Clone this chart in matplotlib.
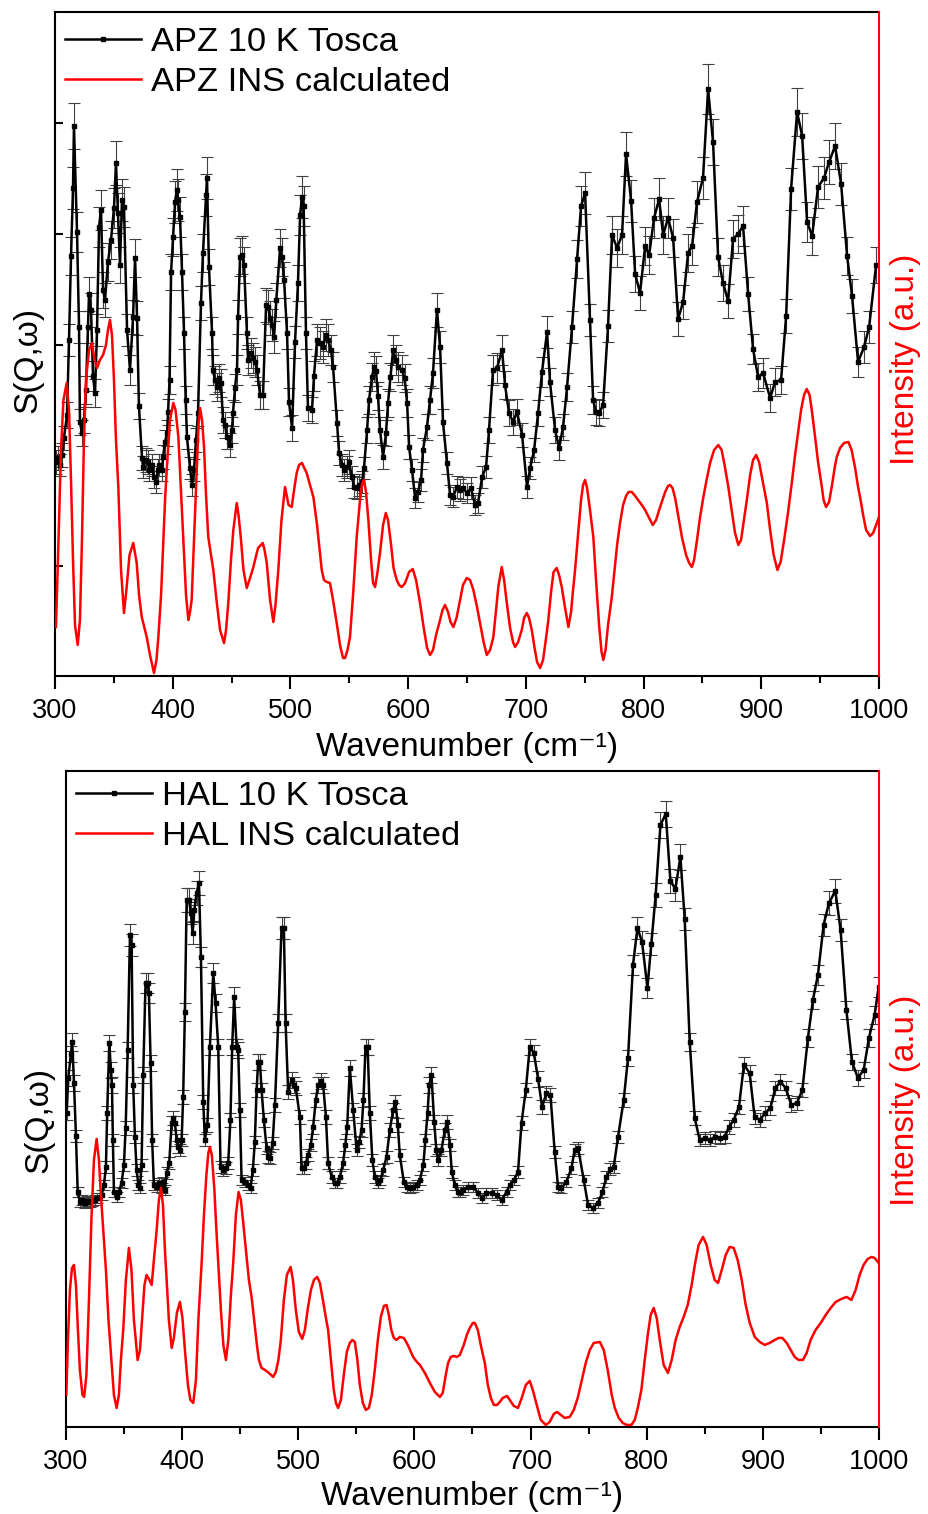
import numpy as np
import matplotlib
matplotlib.use("Agg")
import matplotlib.pyplot as plt
from matplotlib.lines import Line2D

plt.rcParams['font.family'] = ['Liberation Sans', 'DejaVu Sans']

# ---- APZ: TOSCA spectrum at 10 K (arbitrary units) ----
apz_wn = [300.8, 302.5, 304.2, 305.9, 307.6, 310.2, 311.9, 313.6, 315.3, 316.1, 318.7, 320.4, 321.2, 322.9,
          324.6, 326.3, 328.0, 328.9, 330.6, 332.3, 334.0, 335.7, 337.4, 339.1, 340.8, 342.5, 345.0, 347.6,
          350.1, 351.8, 353.5, 355.2, 356.9, 358.6, 361.2, 363.7, 366.3, 368.0, 369.7, 371.3, 373.9, 374.8,
          377.3, 379.0, 379.9, 382.4, 384.1, 385.8, 387.5, 388.4, 390.9, 391.8, 393.5, 395.2, 396.0, 397.3,
          398.6, 400.3, 402.0, 403.6, 404.5, 406.2, 407.9, 409.6, 411.0, 412.1, 414.7, 416.4, 418.1, 419.8,
          421.5, 424.0, 425.7, 428.3, 429.1, 430.8, 433.4, 434.2, 435.9, 437.6, 439.3, 441.0, 442.7, 444.4,
          446.1, 448.7, 450.4, 451.2, 452.9, 454.6, 455.5, 457.2, 458.9, 460.6, 463.1, 464.0, 466.5, 468.2,
          469.9, 471.6, 474.2, 476.7, 479.3, 481.0, 482.7, 484.4, 486.1, 488.0, 491.2, 492.9, 494.6, 497.1,
          498.8, 501.4, 503.9, 506.4, 508.2, 509.9, 511.2, 513.2, 514.9, 518.3, 520.0, 522.6, 525.1, 527.7,
          530.2, 531.9, 534.5, 536.2, 539.6, 541.3, 543.8, 545.5, 548.1, 549.8, 552.3, 554.0, 556.6, 558.3,
          560.8, 562.5, 565.1, 566.8, 569.3, 571.0, 572.7, 574.4, 576.1, 578.7, 581.2, 582.9, 585.0, 587.2,
          589.7, 591.4, 594.8, 597.0, 599.1, 600.8, 603.3, 605.9, 608.4, 611.0, 612.6, 616.0, 618.6, 621.1,
          624.5, 627.1, 629.6, 633.0, 635.6, 638.1, 641.5, 644.1, 646.6, 650.0, 653.4, 656.8, 659.4, 662.8,
          666.2, 668.7, 672.1, 675.5, 679.8, 682.3, 685.7, 689.1, 692.5, 696.8, 701.0, 703.6, 707.0, 710.4,
          713.7, 718.0, 720.5, 724.8, 728.2, 731.6, 735.0, 739.2, 743.5, 746.9, 750.3, 754.5, 757.1, 759.6,
          762.2, 765.6, 769.8, 773.2, 777.5, 781.7, 785.1, 789.4, 792.8, 797.0, 801.3, 804.7, 808.9, 813.2,
          816.6, 820.8, 825.1, 829.3, 833.6, 837.8, 841.2, 845.4, 850.5, 854.8, 859.0, 863.3, 867.5, 871.8,
          876.0, 880.3, 884.5, 888.8, 893.0, 897.3, 901.5, 907.5, 911.7, 916.8, 921.1, 925.3, 930.4, 934.7,
          938.9, 943.2, 948.2, 953.3, 957.6, 962.7, 967.8, 972.9, 977.1, 982.2, 987.3, 991.6, 997.5]
apz_s = [214, 218, 211, 221, 238, 261, 336, 420, 488, 550, 444, 349, 254, 243,
         256, 286, 349, 382, 366, 300, 283, 346, 449, 466, 386, 376, 414, 436,
         468, 513, 463, 411, 476, 469, 346, 306, 359, 418, 358, 270, 218, 209,
         216, 214, 206, 211, 199, 194, 206, 211, 206, 219, 234, 243, 264, 296,
         404, 439, 474, 486, 476, 459, 404, 343, 276, 239, 208, 191, 206, 236,
         263, 373, 423, 481, 498, 409, 343, 306, 296, 289, 298, 293, 256, 251,
         239, 231, 246, 263, 288, 306, 359, 419, 421, 411, 343, 316, 323, 318,
         314, 306, 281, 281, 371, 369, 358, 351, 339, 376, 428, 419, 396, 343,
         274, 248, 334, 393, 461, 479, 470, 343, 268, 266, 300, 336, 333, 329,
         341, 336, 326, 309, 253, 223, 211, 206, 209, 214, 199, 189, 188, 191,
         194, 208, 246, 276, 299, 309, 305, 280, 246, 219, 243, 273, 299, 326,
         316, 309, 306, 298, 273, 229, 206, 178, 184, 196, 226, 249, 276, 303,
         366, 329, 254, 213, 181, 179, 189, 186, 188, 183, 188, 171, 173, 199,
         209, 246, 306, 308, 326, 291, 263, 254, 264, 241, 189, 208, 226, 263,
         304, 344, 294, 246, 228, 249, 289, 349, 417, 470, 483, 356, 276, 264,
         263, 271, 350, 441, 428, 441, 522, 475, 402, 383, 430, 421, 458, 477,
         441, 458, 438, 357, 374, 423, 430, 474, 498, 587, 534, 419, 393, 375,
         437, 442, 450, 382, 327, 299, 303, 278, 294, 296, 360, 487, 564, 540,
         454, 440, 489, 498, 514, 530, 492, 420, 380, 314, 329, 349, 411]
apz_err = [12, 12, 11, 12, 12, 13, 16, 19, 21, 23, 20, 16, 13, 13,
           13, 14, 16, 17, 17, 15, 14, 16, 20, 20, 18, 17, 19, 19,
           20, 22, 20, 18, 21, 20, 16, 15, 17, 19, 17, 13, 12, 11,
           12, 12, 11, 11, 11, 11, 11, 11, 11, 12, 12, 13, 13, 14,
           18, 19, 21, 21, 21, 20, 18, 16, 14, 12, 11, 11, 11, 12,
           13, 17, 19, 21, 21, 18, 16, 15, 14, 14, 14, 14, 13, 13,
           12, 12, 13, 13, 14, 15, 17, 19, 19, 18, 16, 15, 15, 15,
           15, 15, 14, 14, 17, 17, 17, 16, 16, 17, 19, 19, 18, 16,
           14, 13, 16, 18, 20, 21, 20, 16, 13, 13, 15, 16, 16, 16,
           16, 16, 15, 15, 13, 12, 11, 11, 11, 12, 11, 11, 11, 11,
           11, 11, 13, 14, 14, 15, 15, 14, 13, 12, 13, 14, 14, 15,
           15, 15, 15, 14, 14, 12, 11, 10, 10, 11, 12, 13, 14, 15,
           17, 16, 13, 11, 10, 10, 11, 11, 11, 10, 11, 10, 10, 11,
           11, 13, 15, 15, 15, 14, 13, 13, 13, 12, 11, 11, 12, 13,
           15, 16, 14, 13, 12, 13, 14, 16, 19, 20, 21, 16, 14, 13,
           13, 13, 16, 19, 19, 19, 22, 21, 18, 17, 19, 19, 20, 21,
           19, 20, 19, 17, 17, 19, 19, 21, 21, 25, 23, 19, 18, 17,
           19, 19, 20, 17, 15, 14, 15, 14, 14, 14, 17, 21, 24, 23,
           20, 19, 21, 21, 22, 23, 21, 19, 17, 15, 16, 16, 18]

# ---- APZ: calculated INS spectrum (arbitrary units) ----
apz_calc_wn = [300.8, 302.5, 305.1, 307.2, 309.9, 311.9, 313.6, 315.3, 317.0, 319.3, 321.2, 322.9, 324.6, 326.3,
               328.9, 331.4, 333.6, 335.7, 338.2, 340.8, 343.3, 345.0, 346.7, 348.4, 350.1, 351.8, 353.8, 356.1,
               358.6, 360.9, 363.3, 366.5, 369.4, 371.4, 373.7, 377.9, 380.7, 384.1, 386.2, 387.8, 390.1, 392.0,
               393.5, 394.9, 397.7, 400.5, 402.4, 404.8, 407.0, 409.0, 411.3, 413.3, 414.7, 416.1, 418.1, 420.4,
               421.9, 423.2, 424.9, 426.6, 428.3, 430.2, 432.5, 434.5, 437.2, 440.2, 443.6, 445.3, 447.2, 449.5,
               451.5, 454.4, 455.9, 457.8, 460.1, 462.9, 465.7, 468.5, 472.5, 476.5, 478.0, 479.9, 482.7, 485.5,
               487.3, 489.7, 492.4, 495.4, 498.4, 501.1, 503.1, 505.3, 507.3, 509.8, 513.8, 516.6, 519.5, 522.6,
               526.6, 528.5, 530.8, 533.6, 536.2, 539.3, 542.1, 544.7, 546.4, 548.5, 550.6, 553.2, 556.3, 559.1,
               560.8, 562.5, 564.2, 566.2, 568.5, 570.2, 571.9, 574.0, 576.1, 578.7, 581.0, 582.9, 585.5, 587.6,
               590.3, 592.3, 594.6, 597.4, 600.8, 603.9, 606.7, 610.1, 613.5, 616.1, 618.6, 621.1, 623.7, 627.1,
               629.2, 631.3, 633.9, 636.0, 638.4, 641.1, 644.1, 646.6, 649.8, 652.6, 655.4, 658.5, 661.1, 664.1,
               666.8, 669.6, 672.4, 674.7, 676.6, 679.5, 681.5, 683.8, 686.6, 689.1, 690.8, 693.4, 696.5, 698.5,
               700.8, 702.7, 705.0, 707.4, 709.5, 712.1, 714.6, 716.7, 719.1, 721.4, 723.5, 726.2, 728.2, 730.5,
               732.9, 736.1, 738.4, 740.1, 741.8, 744.3, 746.9, 748.6, 750.3, 752.0, 754.5, 757.3, 759.6, 762.2,
               764.3, 765.8, 767.7, 769.8, 773.0, 775.3, 777.5, 780.0, 782.6, 785.1, 787.2, 790.0, 792.8, 795.3,
               798.5, 801.3, 804.7, 807.8, 810.6, 813.2, 815.5, 818.3, 820.8, 822.5, 824.6, 826.8, 829.6, 832.7,
               836.1, 838.7, 841.0, 842.9, 845.4, 848.0, 850.8, 853.5, 856.5, 859.9, 863.5, 866.3, 868.8, 872.0,
               874.8, 877.7, 880.5, 882.8, 885.0, 887.7, 890.5, 893.0, 895.6, 898.1, 900.7, 904.7, 907.5, 910.5,
               913.7, 916.4, 919.4, 923.0, 926.2, 928.7, 931.5, 933.8, 936.3, 938.6, 941.0, 943.1, 945.7, 948.2,
               951.2, 952.9, 955.0, 957.6, 960.1, 962.3, 964.1, 966.9, 970.3, 974.0, 976.7, 979.7, 982.2, 983.9,
               986.5, 989.0, 992.4, 995.0, 997.5, 1000.0]
apz_calc = [49, 116, 226, 276, 293, 266, 196, 116, 51, 31, 56, 136, 236, 296,
            326, 333, 316, 308, 316, 321, 331, 346, 356, 341, 296, 236, 189, 106,
            63, 89, 121, 133, 113, 81, 59, 39, 21, 3, 16, 39, 81, 133,
            176, 206, 256, 273, 266, 239, 186, 139, 81, 56, 64, 76, 136, 206,
            251, 268, 256, 229, 181, 139, 121, 106, 76, 46, 33, 46, 73, 116,
            146, 173, 161, 139, 106, 88, 98, 109, 128, 133, 126, 113, 76, 54,
            71, 106, 156, 189, 171, 169, 186, 203, 211, 213, 203, 191, 179, 151,
            106, 96, 94, 93, 76, 53, 31, 18, 18, 26, 39, 81, 139, 176,
            192, 196, 184, 156, 116, 93, 89, 104, 123, 151, 163, 156, 131, 108,
            96, 91, 89, 93, 104, 107, 96, 73, 46, 28, 21, 26, 41, 56,
            66, 71, 64, 54, 49, 58, 76, 91, 98, 96, 86, 69, 53, 34,
            21, 26, 39, 66, 89, 109, 96, 73, 48, 34, 29, 34, 46, 58,
            63, 58, 46, 28, 14, 8, 16, 34, 56, 84, 104, 108, 101, 89,
            71, 49, 64, 86, 106, 141, 176, 191, 196, 188, 166, 139, 96, 51,
            24, 16, 26, 51, 79, 106, 131, 153, 171, 180, 184, 184, 180, 176,
            171, 166, 158, 151, 156, 166, 174, 184, 190, 191, 188, 178, 159, 138,
            121, 113, 109, 116, 136, 159, 179, 196, 213, 226, 231, 226, 211, 189,
            166, 143, 131, 136, 154, 176, 201, 216, 221, 214, 198, 173, 146, 121,
            106, 114, 136, 166, 196, 221, 246, 266, 281, 287, 281, 264, 239, 214,
            191, 176, 169, 174, 191, 208, 219, 228, 233, 234, 226, 208, 189, 179,
            161, 146, 140, 143, 151, 159]

# ---- HAL: TOSCA spectrum at 10 K (arbitrary units) ----
hal_wn = [300.6, 302.0, 304.3, 305.4, 306.9, 308.6, 310.1, 312.0, 314.2, 316.4, 318.5, 320.7, 322.8, 325.0,
          327.1, 330.7, 332.7, 334.4, 335.5, 337.3, 338.7, 339.6, 340.4, 341.3, 343.6, 345.6, 347.9, 349.9,
          351.4, 353.1, 355.1, 356.5, 357.9, 359.4, 360.8, 362.4, 363.7, 365.1, 366.5, 368.5, 370.3, 371.4,
          372.9, 374.2, 375.7, 378.1, 380.0, 382.4, 383.7, 385.2, 386.7, 388.9, 391.0, 392.3, 393.8, 395.3,
          396.6, 398.1, 399.6, 400.9, 402.4, 403.9, 405.9, 407.6, 409.0, 410.6, 412.5, 414.5, 416.2, 418.2,
          419.6, 421.8, 423.9, 426.8, 428.8, 431.1, 433.1, 435.4, 437.7, 439.7, 441.6, 443.1, 444.8, 446.9,
          448.3, 449.7, 451.2, 454.0, 456.9, 458.9, 460.9, 462.6, 464.1, 465.5, 467.0, 468.4, 470.4, 472.7,
          474.1, 475.6, 477.9, 479.9, 482.7, 485.6, 487.6, 489.1, 491.3, 494.2, 496.2, 497.9, 501.4, 502.8,
          504.8, 506.5, 508.5, 510.8, 512.8, 515.1, 517.1, 519.2, 521.4, 523.8, 525.7, 528.7, 531.5, 533.6,
          535.8, 538.6, 540.5, 542.1, 544.4, 547.3, 550.2, 552.4, 554.5, 556.1, 557.9, 559.7, 561.6, 563.8,
          565.9, 568.8, 570.8, 573.1, 576.0, 578.8, 581.7, 583.7, 585.7, 587.4, 590.9, 593.2, 596.0, 598.9,
          601.8, 604.7, 607.7, 609.4, 611.3, 612.8, 614.7, 617.0, 618.9, 620.4, 623.3, 626.2, 628.3, 630.5,
          632.2, 634.8, 637.6, 639.1, 641.9, 646.2, 650.5, 654.8, 658.6, 662.0, 666.4, 670.7, 675.0, 679.3,
          682.1, 685.8, 689.2, 692.2, 695.9, 699.3, 702.8, 706.5, 709.9, 713.7, 717.1, 720.8, 723.7, 726.6,
          730.9, 735.2, 738.0, 740.9, 745.8, 749.5, 753.8, 758.1, 761.9, 765.3, 768.8, 771.6, 775.3, 780.2,
          783.9, 788.2, 792.0, 796.0, 800.6, 804.0, 807.7, 811.8, 816.4, 820.4, 824.7, 829.0, 832.7, 837.0,
          841.3, 845.6, 849.9, 854.2, 858.5, 862.8, 867.1, 870.8, 874.9, 879.4, 883.7, 888.6, 892.9, 897.3,
          902.1, 906.5, 910.8, 915.1, 919.6, 924.5, 929.4, 934.0, 938.8, 943.1, 947.4, 952.3, 956.9, 962.4,
          966.9, 971.9, 976.7, 981.8, 986.8, 991.3, 996.2, 999.7]
hal_s = [314, 349, 373, 385, 344, 291, 235, 225, 227, 224, 226, 225, 226, 227,
         229, 232, 242, 260, 314, 384, 357, 342, 287, 235, 230, 235, 244, 262,
         299, 377, 492, 482, 342, 290, 257, 242, 239, 262, 352, 444, 444, 434,
         364, 287, 242, 240, 244, 239, 245, 237, 254, 264, 304, 309, 304, 287,
         280, 277, 287, 330, 415, 527, 527, 514, 494, 517, 534, 544, 470, 325,
         287, 302, 380, 454, 424, 380, 260, 257, 259, 264, 307, 380, 430, 380,
         377, 317, 247, 245, 242, 239, 257, 285, 337, 365, 365, 337, 307, 279,
         270, 269, 284, 322, 404, 499, 499, 404, 335, 347, 342, 339, 310, 259,
         259, 264, 272, 282, 300, 327, 342, 346, 342, 310, 264, 250, 244, 244,
         250, 264, 282, 300, 359, 317, 277, 285, 297, 327, 380, 380, 314, 267,
         250, 244, 247, 257, 270, 297, 317, 325, 302, 272, 245, 240, 239, 240,
         242, 247, 262, 287, 314, 342, 352, 305, 277, 267, 277, 297, 305, 282,
         255, 242, 235, 235, 237, 240, 240, 234, 229, 234, 234, 232, 227, 235,
         242, 247, 255, 304, 337, 380, 374, 348, 320, 334, 332, 275, 240, 239,
         245, 259, 277, 279, 247, 222, 219, 224, 235, 250, 258, 260, 290, 327,
         369, 462, 499, 485, 439, 483, 532, 602, 613, 546, 538, 570, 508, 385,
         309, 287, 289, 287, 290, 289, 290, 300, 307, 320, 362, 354, 310, 307,
         314, 319, 339, 345, 339, 322, 324, 337, 389, 427, 452, 502, 524, 536,
         497, 417, 365, 349, 357, 389, 412, 440]
hal_err = [7, 8, 8, 9, 8, 6, 5, 5, 5, 5, 5, 5, 5, 5,
           5, 5, 5, 6, 7, 8, 8, 8, 6, 5, 5, 5, 5, 6,
           7, 8, 11, 11, 8, 6, 6, 5, 5, 6, 8, 10, 10, 10,
           8, 6, 5, 5, 5, 5, 5, 5, 6, 6, 7, 7, 7, 6,
           6, 6, 6, 7, 9, 12, 12, 11, 11, 11, 12, 12, 10, 7,
           6, 7, 8, 10, 9, 8, 6, 6, 6, 6, 7, 8, 10, 8,
           8, 7, 5, 5, 5, 5, 6, 6, 7, 8, 8, 7, 7, 6,
           6, 6, 6, 7, 9, 11, 11, 9, 7, 8, 8, 7, 7, 6,
           6, 6, 6, 6, 7, 7, 8, 8, 8, 7, 6, 6, 5, 5,
           6, 6, 6, 7, 8, 7, 6, 6, 7, 7, 8, 8, 7, 6,
           6, 5, 5, 6, 6, 7, 7, 7, 7, 6, 5, 5, 5, 5,
           5, 5, 6, 6, 7, 8, 8, 7, 6, 6, 6, 7, 7, 6,
           6, 5, 5, 5, 5, 5, 5, 5, 5, 5, 5, 5, 5, 5,
           5, 5, 6, 7, 7, 8, 8, 8, 7, 7, 7, 6, 5, 5,
           5, 6, 6, 6, 5, 5, 5, 5, 5, 6, 6, 6, 6, 7,
           8, 10, 11, 11, 10, 11, 12, 13, 13, 12, 12, 13, 11, 9,
           7, 6, 6, 6, 6, 6, 6, 7, 7, 7, 8, 8, 7, 7,
           7, 7, 7, 8, 7, 7, 7, 7, 9, 9, 10, 11, 12, 12,
           11, 9, 8, 8, 8, 9, 9, 10]

# ---- HAL: calculated INS spectrum (arbitrary units) ----
hal_calc_wn = [300.3, 301.7, 303.4, 305.2, 306.9, 308.6, 310.3, 312.0, 314.2, 315.7, 317.6, 319.8, 321.9, 324.1,
               326.4, 328.4, 330.1, 332.1, 334.4, 336.6, 339.3, 341.3, 343.6, 345.6, 347.3, 349.3, 351.6, 354.2,
               356.4, 358.5, 361.7, 363.7, 365.8, 367.6, 369.4, 371.4, 373.8, 375.7, 378.1, 380.0, 381.8, 383.5,
               385.2, 386.7, 388.6, 391.0, 392.9, 395.5, 398.1, 400.3, 402.4, 405.0, 407.1, 409.6, 411.9, 414.0,
               416.8, 418.8, 420.9, 422.6, 423.9, 425.6, 427.8, 429.5, 431.1, 433.4, 435.5, 437.7, 439.8, 442.0,
               444.0, 446.3, 448.6, 450.6, 452.8, 455.5, 457.5, 459.8, 461.8, 464.4, 466.1, 468.4, 471.3, 474.7,
               478.4, 480.7, 482.9, 485.0, 487.6, 490.2, 493.4, 495.4, 497.9, 500.5, 503.4, 505.7, 508.3, 510.9,
               513.5, 516.3, 518.6, 521.2, 523.8, 525.7, 528.1, 530.6, 532.4, 534.3, 536.7, 539.2, 541.8, 544.4,
               546.6, 548.7, 550.9, 553.0, 555.6, 558.2, 560.8, 563.3, 565.9, 568.5, 571.1, 573.7, 576.0, 578.0,
               580.1, 582.3, 584.6, 587.4, 590.9, 594.3, 598.9, 602.1, 604.7, 609.0, 613.3, 617.6, 621.9, 624.4,
               627.0, 629.0, 631.3, 633.9, 636.5, 639.1, 642.5, 645.1, 647.7, 650.3, 652.0, 654.6, 657.1, 660.6,
               663.2, 665.8, 668.4, 671.2, 673.5, 676.1, 679.8, 682.1, 685.5, 689.2, 692.4, 695.9, 699.3, 701.9,
               705.3, 708.8, 713.1, 716.5, 720.0, 722.8, 726.0, 729.4, 733.7, 737.2, 740.6, 744.1, 747.5, 751.0,
               754.4, 759.6, 763.0, 766.4, 769.9, 772.5, 775.9, 779.4, 782.8, 786.8, 789.7, 792.3, 795.4, 798.3,
               800.9, 803.4, 806.0, 808.6, 811.2, 814.6, 818.3, 821.5, 824.9, 828.4, 831.8, 835.3, 838.7, 841.7,
               844.7, 848.5, 851.6, 855.1, 858.5, 861.4, 864.6, 868.0, 871.4, 874.9, 878.3, 881.8, 885.2, 888.7,
               893.0, 897.3, 901.6, 905.9, 910.2, 913.6, 916.8, 920.5, 923.9, 927.4, 930.8, 934.5, 937.7, 941.1,
               945.4, 950.4, 954.1, 958.4, 962.7, 967.6, 972.1, 976.2, 979.9, 983.3, 986.7, 990.2, 993.6, 996.2,
               999.7]
hal_calc = [32, 87, 137, 159, 162, 142, 97, 57, 32, 30, 52, 127, 207, 267,
            288, 267, 232, 197, 157, 107, 64, 32, 19, 32, 67, 97, 147, 179,
            157, 107, 67, 77, 112, 142, 152, 148, 142, 167, 197, 227, 239, 222,
            177, 147, 107, 79, 89, 114, 125, 109, 77, 42, 27, 24, 47, 107,
            164, 212, 252, 274, 280, 272, 237, 197, 164, 117, 82, 67, 87, 132,
            164, 212, 235, 227, 202, 170, 147, 130, 109, 82, 67, 59, 57, 54,
            50, 55, 67, 87, 127, 152, 160, 147, 117, 95, 88, 97, 119, 137,
            147, 150, 144, 127, 109, 97, 67, 37, 24, 19, 27, 52, 75, 84,
            87, 85, 67, 42, 24, 17, 19, 32, 57, 87, 110, 121, 122, 112,
            97, 89, 87, 90, 89, 82, 70, 65, 62, 54, 44, 35, 30, 34,
            52, 64, 70, 71, 70, 72, 82, 92, 99, 104, 104, 97, 82, 64,
            42, 29, 22, 22, 25, 29, 31, 27, 21, 19, 29, 42, 46, 37,
            22, 7, 2, 5, 13, 15, 12, 9, 10, 17, 29, 47, 64, 77,
            84, 85, 77, 57, 32, 19, 9, 4, 2, 2, 7, 19, 37, 67,
            92, 112, 119, 109, 87, 62, 54, 67, 87, 100, 110, 122, 142, 164,
            182, 190, 182, 162, 147, 144, 157, 172, 180, 179, 167, 147, 122, 104,
            90, 85, 82, 84, 87, 89, 89, 84, 77, 70, 67, 67, 74, 87,
            97, 105, 112, 119, 125, 128, 130, 127, 137, 152, 162, 168, 170, 169,
            164]

panels = [
    dict(rect=[0.0592, 0.5535, 0.8870, 0.4386], ymax=664, yticks=[110, 221, 331, 442, 553],
         wn=apz_wn, s=apz_s, err=apz_err, cwn=apz_calc_wn, c=apz_calc,
         labels=['APZ 10 K Tosca', 'APZ INS calculated'],
         ylab_y=0.476, rlab_y=0.477, leg_y=0.9925, xlab_y=-0.085),
    dict(rect=[0.0710, 0.0575, 0.8752, 0.4333], ymax=656, yticks=[],
         wn=hal_wn, s=hal_s, err=hal_err, cwn=hal_calc_wn, c=hal_calc,
         labels=['HAL 10 K Tosca', 'HAL INS calculated'],
         ylab_y=0.468, rlab_y=0.498, leg_y=1.0, xlab_y=-0.082),
]

fig = plt.figure(figsize=(9.29, 15.14), dpi=100)

for p in panels:
    ax = fig.add_axes(p['rect'])
    ax.errorbar(p['wn'], p['s'], yerr=p['err'], fmt='-s', color='black', lw=1.8, ms=3.0,
                ecolor='#404040', elinewidth=0.8, capsize=4, capthick=0.8)
    ax.set_xlim(300, 1000)
    ax.set_ylim(0, p['ymax'])
    ax.set_xticks(np.arange(300, 1001, 100))
    ax.set_xticks(np.arange(350, 1000, 100), minor=True)
    ax.set_yticks(p['yticks'])
    ax.set_yticklabels([])
    ax.tick_params(axis='x', which='major', direction='out', length=9, width=1.5,
                   labelsize=19.5, pad=7)
    ax.tick_params(axis='x', which='minor', direction='out', length=5, width=1.5)
    ax.tick_params(axis='y', which='major', direction='in', length=6, width=1.5)
    for side in ['left', 'top', 'bottom']:
        ax.spines[side].set_linewidth(1.5)
    ax.spines['right'].set_visible(False)
    ax.set_xlabel('Wavenumber (cm\u207b\u00b9)', fontsize=24)
    ax.xaxis.set_label_coords(0.5, p['xlab_y'])
    ax.set_ylabel('S(Q,ω)', fontsize=24)
    ax.yaxis.set_label_coords(-0.014, p['ylab_y'])

    ax2 = ax.twinx()
    ax2.plot(p['cwn'], p['c'], color='red', lw=1.8)
    ax2.set_ylim(0, p['ymax'])
    ax2.set_yticks([])
    for side in ['left', 'top', 'bottom']:
        ax2.spines[side].set_visible(False)
    ax2.spines['right'].set_color('red')
    ax2.spines['right'].set_linewidth(1.5)
    ax2.set_ylabel('Intensity (a.u.)', fontsize=24, color='red')
    ax2.yaxis.set_label_coords(1.013, p['rlab_y'])

    handles = [Line2D([], [], color='black', lw=1.8, marker='s', ms=3.0),
               Line2D([], [], color='red', lw=1.8)]
    ax2.legend(handles, p['labels'], loc='upper left', bbox_to_anchor=(0.0, p['leg_y']),
               frameon=False, fontsize=24.8, handlelength=2.2, handletextpad=0.3,
               labelspacing=0.24, borderaxespad=0.0, borderpad=0.3)

fig.savefig('out.png', dpi=100)
